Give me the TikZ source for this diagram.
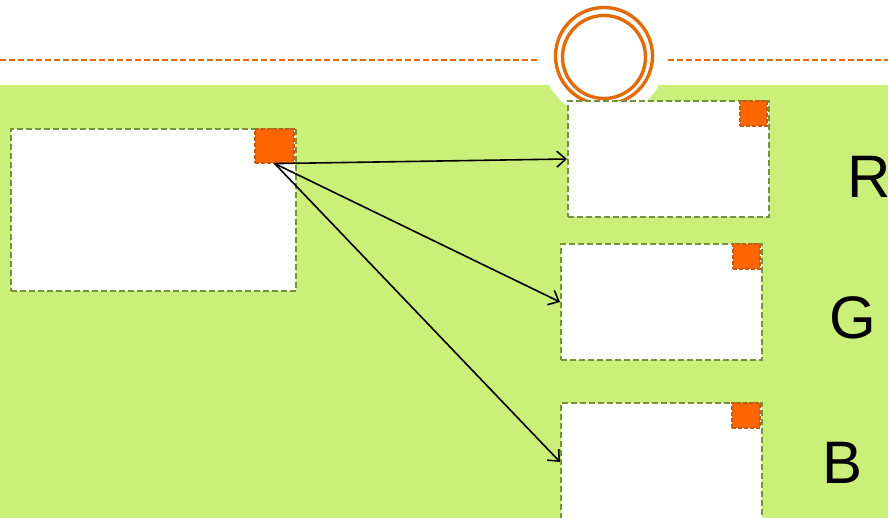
\documentclass[tikz,border=0pt]{standalone}
\usepackage{fontspec}
\setmainfont{Liberation Sans}
\usetikzlibrary{arrows.meta}
\definecolor{leaf}{HTML}{CBF07A}
\definecolor{olive}{HTML}{76923C}
\definecolor{rust}{HTML}{E36C0A}
\definecolor{flame}{HTML}{FF6600}
\definecolor{ember}{HTML}{C55A11}
\tikzset{
  panel/.style={draw=olive, fill=white, line width=2pt, dash pattern=on 6pt off 3pt,
    anchor=north west, inner sep=0pt, minimum width=#1},
  tag/.style={draw=ember, fill=flame, line width=1.6pt, dash pattern=on 4pt off 2pt,
    anchor=north east, inner sep=0pt},
  link/.style={line width=1.6pt, -{Straight Barb[length=9pt,width=16pt,line width=1.6pt]}},
  channel/.style={font=\fontsize{60}{60}\selectfont, text=black},
  rule/.style={draw=rust, line width=1.5pt, dash pattern=on 6pt off 3pt}
}
\begin{document}
\begin{tikzpicture}[x=1pt,y=-1pt]
\useasboundingbox (0,0) rectangle (888,518);
\fill[white] (0,0) rectangle (888,518);
% green band with a round notch under the ring
\fill[leaf] (0,85) rectangle (888,518);
\fill[white] (604,56) circle (62);
% header rule
\coordinate (ruleA) at (0,60);
\coordinate (ruleB) at (538,60);
\coordinate (ruleC) at (668,60);
\coordinate (ruleD) at (888,60);
\draw[rule] (ruleA) -- (ruleB);
\draw[rule] (ruleC) -- (ruleD);
% double ring
\draw[rust, line width=3.4pt] (604,56) circle (48.5);
\draw[rust, line width=3.4pt] (604,57) circle (41.5);
% source panel
\node[panel=285pt, minimum height=162pt] (src) at (10,128) {};
\node[tag, minimum width=39pt, minimum height=34pt] (srctag) at (295,128) {};
% channel panels
\node[panel=201pt, minimum height=116pt] (rbox) at (567,100) {};
\node[tag, minimum width=27pt, minimum height=25pt] (rtag) at (768,100) {};
\node[panel=201pt, minimum height=116pt] (gbox) at (560,243) {};
\node[tag, minimum width=27pt, minimum height=25pt] (gtag) at (761,243) {};
\node[panel=201pt, minimum height=118pt] (bbox) at (560,402) {};
\node[tag, minimum width=28pt, minimum height=25pt] (btag) at (761,402) {};
% arrows
\draw[link] (srctag.south) -- (rbox.west);
\draw[link] (srctag.south) -- (gbox.west);
\draw[link] (srctag.south) -- (bbox.west);
% labels
\node[channel] (lr) at (869,177) {R};
\node[channel] (lg) at (853,318) {G};
\node[channel] (lb) at (842,463) {B};
\end{tikzpicture}
\end{document}
